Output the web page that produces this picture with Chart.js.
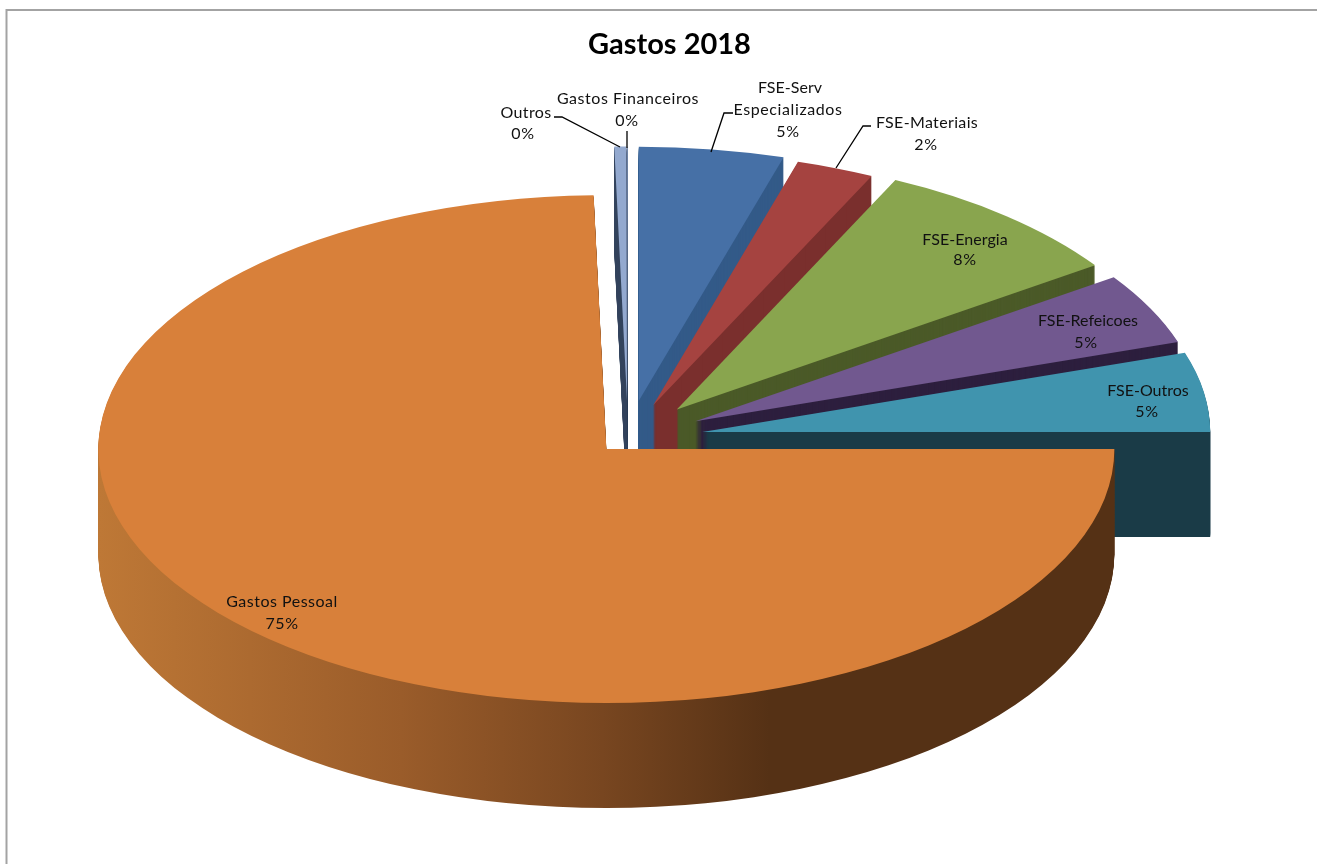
<!DOCTYPE html>
<html lang="pt">
<head>
<meta charset="utf-8">
<title>Gastos 2018</title>
<script src="https://cdn.jsdelivr.net/npm/chart.js@4/dist/chart.umd.min.js"></script>
<style>
  html, body { margin: 0; padding: 0; background: #fff; }
  canvas { display: block; }
</style>
</head>
<body>
<canvas id="gastos" width="1317" height="864"></canvas>
<script>
// Share of each expense, in percent, clockwise from twelve o'clock.
const categories = ['FSE-Serv Especializados', 'FSE-Materiais', 'FSE-Energia', 'FSE-Refeicoes',
                    'FSE-Outros', 'Gastos Pessoal', 'Outros', 'Gastos Financeiros'];
const shares = [4.6, 2.48, 8.32, 4.55, 5.05, 74.6, 0.38, 0.02];

const topColors  = ['#4670a6', '#a54340', '#89a54e', '#71588f', '#4094ae', '#d8803a', '#93a9cf', '#93a9cf'];
const wallColors = ['#335a88', '#7a2f2d', '#4b5a28', '#2d1f3e', '#1a3b47', null, '#36465f', '#36465f'];
const explosion  = [0.148, 0.138, 0.148, 0.148, 0.148, 0.061, 0.148, 0.148];
const paintOrder = [7, 6, 0, 1, 2, 3, 4, 5];

const pct = i => Math.round(shares[i] / shares.reduce((a, b) => a + b, 0) * 100) + '%';

// Tilted-disc projection, in canvas pixels.
const disc = { cx: 628, cy: 438, rx: 508, ry: 254, depth: 105 };

// Text lines (text, x, baseline, tracking) and leader lines for each slice.
const labelLayout = [
  { i: 0, lines: [['FSE-Serv', 790, 93, 0.05], ['Especializados', 788, 115, 0.6]], pctAt: [788, 137],
    leader: [[733, 113], [724, 113], [711, 152]] },
  { i: 1, lines: [['FSE-Materiais', 927, 128, 0.35]], pctAt: [926, 150],
    leader: [[871, 126], [863, 126], [836, 168]] },
  { i: 2, lines: [['FSE-Energia', 965, 245, 0.05]], pctAt: [965, 265] },
  { i: 3, lines: [['FSE-Refeicoes', 1088, 326, 0]], pctAt: [1086, 348] },
  { i: 4, lines: [['FSE-Outros', 1148, 396, 0]], pctAt: [1147, 417] },
  { i: 5, lines: [['Gastos Pessoal', 282, 607, 0.5]], pctAt: [282, 629] },
  { i: 6, lines: [['Outros', 526, 118, 0.35]], pctAt: [523, 139],
    leader: [[554, 117], [562, 117], [620, 147]] },
  { i: 7, lines: [['Gastos Financeiros', 628, 104, 0.55]], pctAt: [627, 126],
    leader: [[627, 131], [627, 148]] }
];

// Paints the arcs as an exploded, extruded disc and skips the flat default drawing.
const extrudedPie = {
  id: 'extrudedPie',
  beforeDraw(chart) {
    const { ctx } = chart;
    ctx.save();
    ctx.strokeStyle = '#a3a3a3';
    ctx.lineWidth = 2;
    ctx.beginPath();
    ctx.moveTo(6.5, 864);
    ctx.lineTo(6.5, 10);
    ctx.lineTo(1317, 10);
    ctx.stroke();
    ctx.restore();
  },
  beforeDatasetsDraw(chart) {
    const { ctx } = chart;
    const arcs = chart.getDatasetMeta(0).data;
    const R = arcs[0].outerRadius;
    const sx = disc.rx / R, sy = disc.ry / R;

    const place = (arc, i, dy) => {
      const mid = (arc.startAngle + arc.endAngle) / 2;
      ctx.translate(disc.cx, disc.cy + dy);
      ctx.scale(sx, sy);
      ctx.translate(-arc.x, -arc.y);
      ctx.translate(Math.cos(mid) * explosion[i] * R, Math.sin(mid) * explosion[i] * R);
      return mid;
    };

    const wallFill = (arc, i, mid) => {
      if (wallColors[i]) return wallColors[i];
      const toUser = px => arc.x + (px - disc.cx) / sx - Math.cos(mid) * explosion[i] * R;
      const g = ctx.createLinearGradient(toUser(99), 0, toUser(770), 0);
      g.addColorStop(0, '#be7836');
      g.addColorStop(0.45, '#9a5c2a');
      g.addColorStop(0.75, '#784620');
      g.addColorStop(1, '#553115');
      return g;
    };

    for (const i of paintOrder) {
      const arc = arcs[i];
      for (let dy = disc.depth; dy >= 1; dy--) {
        ctx.save();
        const mid = place(arc, i, dy);
        const side = Object.create(arc);
        side.options = { offset: 0, spacing: 0, borderWidth: 0, borderRadius: 0, borderAlign: 'center',
                         borderColor: 'transparent', circular: true, backgroundColor: wallFill(arc, i, mid) };
        side.draw(ctx);
        ctx.restore();
      }
      ctx.save();
      place(arc, i, 0);
      arc.draw(ctx);
      ctx.restore();
    }
    return false;
  },
  afterDraw(chart) {
    const { ctx } = chart;
    ctx.save();
    ctx.font = '16px Lato';
    ctx.fillStyle = '#111';
    ctx.strokeStyle = '#000';
    ctx.lineWidth = 1.3;
    ctx.textAlign = 'center';
    ctx.textBaseline = 'alphabetic';
    for (const item of labelLayout) {
      for (const [text, x, y, tracking] of item.lines) {
        ctx.letterSpacing = tracking + 'px';
        ctx.fillText(text, x, y);
      }
      ctx.letterSpacing = '0.6px';
      ctx.fillText(pct(item.i), item.pctAt[0], item.pctAt[1]);
      if (item.leader) {
        ctx.beginPath();
        item.leader.forEach(([x, y], k) => (k ? ctx.lineTo(x, y) : ctx.moveTo(x, y)));
        ctx.stroke();
      }
    }
    ctx.restore();
  }
};

new Chart(document.getElementById('gastos'), {
  type: 'pie',
  data: {
    labels: categories,
    datasets: [{ data: shares, backgroundColor: topColors, borderWidth: 0 }]
  },
  options: {
    responsive: false,
    animation: false,
    layout: { padding: { left: 22, top: 27 } },
    plugins: {
      legend: { display: false },
      tooltip: { enabled: false },
      title: {
        display: true,
        text: 'Gastos 2018',
        color: '#000',
        font: { family: 'Lato', size: 29, weight: 'bold' },
        padding: { top: 0, bottom: 10 }
      }
    }
  },
  plugins: [extrudedPie]
});
</script>
</body>
</html>
